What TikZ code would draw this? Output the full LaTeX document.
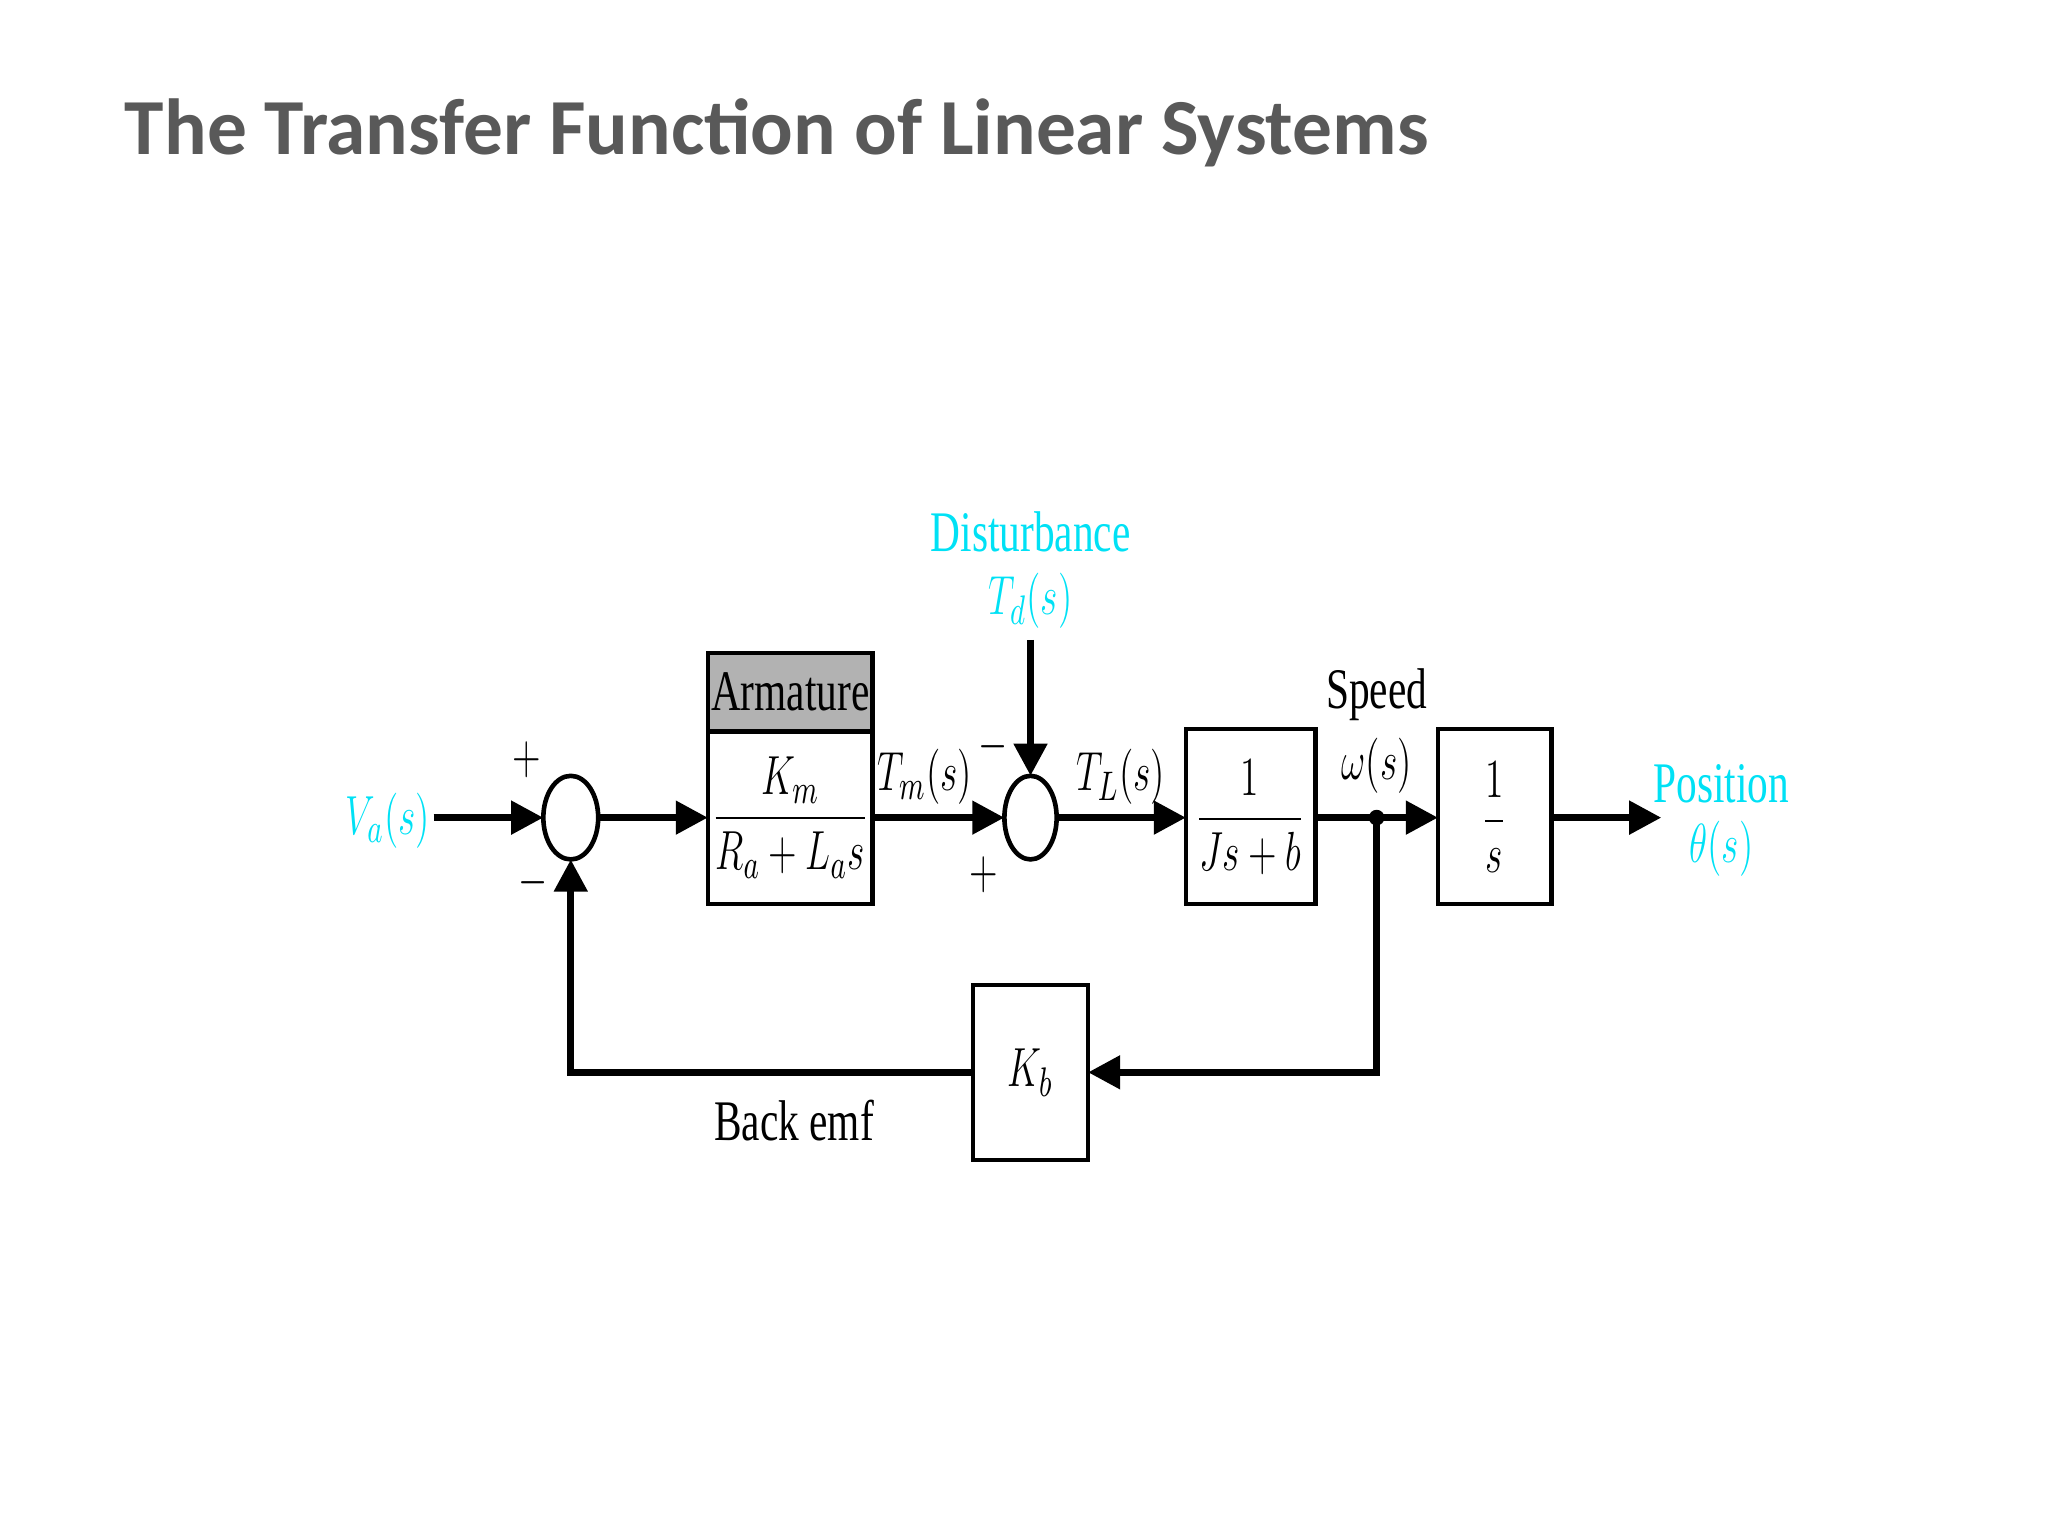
\documentclass[tikz,border=0pt]{standalone}
\usepackage{fontspec}
\usepackage{amsmath}
\usepackage{graphicx}
\setmainfont{Liberation Serif}
\newfontfamily\titlefont{Carlito}
\newfontfamily\dfont[FakeStretch=0.72]{Liberation Serif}
\newcommand{\sqz}[1]{\scalebox{0.68}[1]{#1}}
\usetikzlibrary{arrows.meta}
\definecolor{cy}{RGB}{0,225,245}
\definecolor{tgray}{RGB}{89,89,89}
\begin{document}
\begin{tikzpicture}[x=0.01cm,y=-0.01cm,
  lbl/.style={font=\dfont\fontsize{12.5}{15}\selectfont, inner sep=0pt},
  clbl/.style={lbl, text=cy},
  blk/.style={draw, line width=1pt},
  sig/.style={line width=1.6pt, -{Triangle[length=7pt,width=7pt]}}]
\useasboundingbox (0,0) rectangle (1568,1176);
\node[anchor=base west, text=tgray, font=\titlefont\bfseries\fontsize{17.3}{20}\selectfont, inner sep=0pt] (title) at (95,118) {The Transfer Function of Linear Systems};

\draw[line width=1pt] (437,626) ellipse [x radius=21, y radius=32];
\coordinate (s1w) at (416,626);
\coordinate (s1e) at (458,626);
\coordinate (s1s) at (437,658);
\draw[line width=1pt] (789,626) ellipse [x radius=20, y radius=32];
\coordinate (s2w) at (769,626);
\coordinate (s2e) at (809,626);
\coordinate (s2n) at (789,594);

\draw[blk, fill=black!30] (542,500) rectangle (668,560);
\draw[blk] (542,560) rectangle (668,692);
\node[lbl] (arm) at (605,530) {Armature};
\node[lbl] (armf) at (605,626) {\sqz{$\dfrac{K_m}{R_a+L_a s}$}};
\coordinate (armw) at (542,626);
\coordinate (arme) at (668,626);

\draw[blk] (908,558) rectangle (1007,692);
\node[lbl] (b3) at (957,626) {\sqz{$\dfrac{1}{Js+b}$}};
\coordinate (b3w) at (908,626);
\coordinate (b3e) at (1007,626);

\draw[blk] (1101,558) rectangle (1188,692);
\node[lbl] (b4) at (1144,626) {\sqz{$\dfrac{1}{s}$}};
\coordinate (b4w) at (1101,626);
\coordinate (b4e) at (1188,626);

\draw[blk] (745,754) rectangle (833,888);
\node[lbl] (kb) at (789,821) {\sqz{$K_b$}};
\coordinate (kbw) at (745,821);
\coordinate (kbe) at (833,821);

\node[clbl] (va) at (297,628) {\sqz{$V_a(s)$}};
\node[lbl] at (403,582) {\sqz{$+$}};
\node[lbl] at (408,676) {\sqz{$-$}};
\node[lbl] (tm) at (708,595) {\sqz{$T_m(s)$}};
\node[lbl] at (760,572) {\sqz{$-$}};
\node[lbl] at (753,670) {\sqz{$+$}};
\node[clbl] (dist) at (789,407) {Disturbance};
\node[clbl] (td) at (789,460) {\sqz{$T_d(s)$}};
\node[lbl] (tl) at (858,595) {\sqz{$T_L(s)$}};
\node[lbl] (speed) at (1054,532) {Speed};
\node[lbl] (om) at (1054,586) {\sqz{$\omega(s)$}};
\node[clbl] (pos) at (1318,600) {Position};
\node[clbl] (th) at (1318,650) {\sqz{$\theta(s)$}};
\node[lbl] (bemf) at (608,858) {Back emf};

\coordinate (vaend) at (332,626);
\coordinate (tdtop) at (789,490);
\coordinate (dot) at (1054,626);
\coordinate (out) at (1272,626);
\draw[sig] (vaend) -- (s1w);
\draw[sig] (s1e) -- (armw);
\draw[sig] (arme) -- (s2w);
\draw[sig] (tdtop) -- (s2n);
\draw[sig] (s2e) -- (b3w);
\draw[sig] (b3e) -- (b4w);
\draw[sig] (b4e) -- (out);
\fill (dot) circle (6);
\draw[sig] (dot) |- (kbe);
\draw[sig] (kbw) -| (s1s);
\end{tikzpicture}
\end{document}
